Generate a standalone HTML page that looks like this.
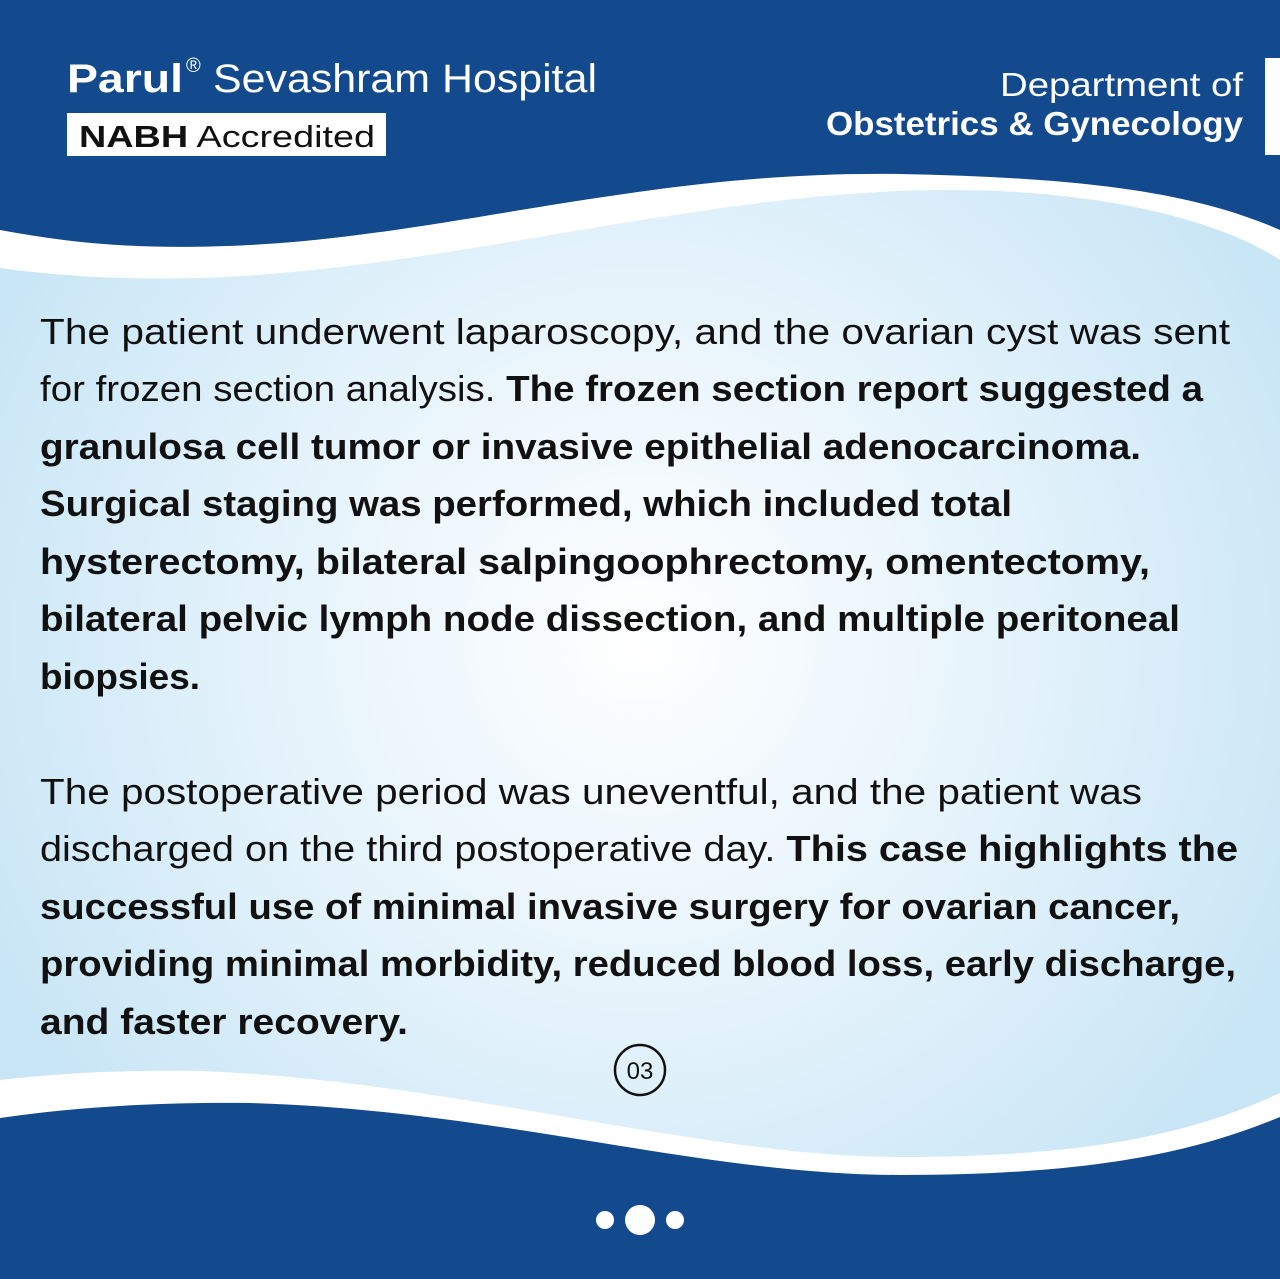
<!DOCTYPE html>
<html><head><meta charset="utf-8"><style>
html,body{margin:0;padding:0;width:1280px;height:1279px;overflow:hidden;background:#134a8e}
svg{display:block}
</style></head><body>
<svg width="1280" height="1279" viewBox="0 0 1280 1279" xmlns="http://www.w3.org/2000/svg">
<defs>
<radialGradient id="g" cx="640" cy="640" r="720" gradientUnits="userSpaceOnUse">
<stop offset="0" stop-color="#ffffff"/>
<stop offset="0.55" stop-color="#e3f2fb"/>
<stop offset="1" stop-color="#c9e6f6"/>
</radialGradient>
</defs>
<rect width="1280" height="1279" fill="#134a8e"/>
<!-- white band region -->
<path d="M0,230 C80,245 150,250 250,245 C450,235 650,170 900,174 C1100,178 1200,195 1280,230 L1280,1117 C1200,1150 1100,1175 900,1175 C700,1175 500,1110 250,1103 C170,1102 80,1106 0,1118 Z" fill="#ffffff"/>
<!-- light content area -->
<path d="M0,268 C60,276 120,280 200,278 C450,270 700,190 950,190 C1100,190 1220,220 1280,260 L1280,1093 C1200,1130 1100,1157 900,1157 C700,1157 450,1080 200,1071 C130,1070 70,1072 0,1080 Z" fill="url(#g)"/>
<!-- header -->
<text x="67" y="92" font-family="Liberation Sans, sans-serif" font-size="40" font-weight="bold" fill="#fff" textLength="116" lengthAdjust="spacingAndGlyphs">Parul</text>
<text x="186" y="72" font-family="Liberation Sans, sans-serif" font-size="20" fill="#fff">®</text>
<text x="213" y="92" font-family="Liberation Sans, sans-serif" font-size="40" fill="#fff" textLength="384" lengthAdjust="spacingAndGlyphs">Sevashram Hospital</text>
<rect x="67" y="113" width="319" height="43" fill="#fff"/>
<text x="79" y="147" font-family="Liberation Sans, sans-serif" font-size="31" fill="#111" textLength="296" lengthAdjust="spacingAndGlyphs"><tspan font-weight="bold">NABH</tspan> Accredited</text>
<text x="1243" y="96" text-anchor="end" font-family="Liberation Sans, sans-serif" font-size="33" fill="#fff" textLength="243" lengthAdjust="spacingAndGlyphs">Department of</text>
<text x="1243" y="135" text-anchor="end" font-family="Liberation Sans, sans-serif" font-size="33" font-weight="bold" fill="#fff" textLength="417" lengthAdjust="spacingAndGlyphs">Obstetrics &amp; Gynecology</text>
<rect x="1265" y="58" width="15" height="97" fill="#fff"/>
<!-- body text -->
<g font-family="Liberation Sans, sans-serif" font-size="36" fill="#111">
<text x="40" y="344" textLength="1190" lengthAdjust="spacingAndGlyphs">The patient underwent laparoscopy, and the ovarian cyst was sent</text>
<text x="40" y="401" textLength="1163" lengthAdjust="spacingAndGlyphs">for frozen section analysis. <tspan font-weight="bold">The frozen section report suggested a</tspan></text>
<text x="40" y="459" font-weight="bold" textLength="1101" lengthAdjust="spacingAndGlyphs">granulosa cell tumor or invasive epithelial adenocarcinoma.</text>
<text x="40" y="516" font-weight="bold" textLength="972" lengthAdjust="spacingAndGlyphs">Surgical staging was performed, which included total</text>
<text x="40" y="574" font-weight="bold" textLength="1110" lengthAdjust="spacingAndGlyphs">hysterectomy, bilateral salpingoophrectomy, omentectomy,</text>
<text x="40" y="631" font-weight="bold" textLength="1140" lengthAdjust="spacingAndGlyphs">bilateral pelvic lymph node dissection, and multiple peritoneal</text>
<text x="40" y="689" font-weight="bold" textLength="160" lengthAdjust="spacingAndGlyphs">biopsies.</text>
<text x="40" y="804" textLength="1102" lengthAdjust="spacingAndGlyphs">The postoperative period was uneventful, and the patient was</text>
<text x="40" y="861" textLength="1198" lengthAdjust="spacingAndGlyphs">discharged on the third postoperative day. <tspan font-weight="bold">This case highlights the</tspan></text>
<text x="40" y="919" font-weight="bold" textLength="1140" lengthAdjust="spacingAndGlyphs">successful use of minimal invasive surgery for ovarian cancer,</text>
<text x="40" y="976" font-weight="bold" textLength="1196" lengthAdjust="spacingAndGlyphs">providing minimal morbidity, reduced blood loss, early discharge,</text>
<text x="40" y="1034" font-weight="bold" textLength="368" lengthAdjust="spacingAndGlyphs">and faster recovery.</text>
</g>
<!-- page number -->
<circle cx="640" cy="1070" r="25" fill="none" stroke="#111" stroke-width="2.5"/>
<text x="640" y="1079" text-anchor="middle" font-family="Liberation Sans, sans-serif" font-size="24" fill="#111">03</text>
<!-- dots -->
<circle cx="605" cy="1220" r="9" fill="#fff"/>
<circle cx="640" cy="1220" r="15" fill="#fff"/>
<circle cx="675" cy="1220" r="9" fill="#fff"/>
</svg>
</body></html>
